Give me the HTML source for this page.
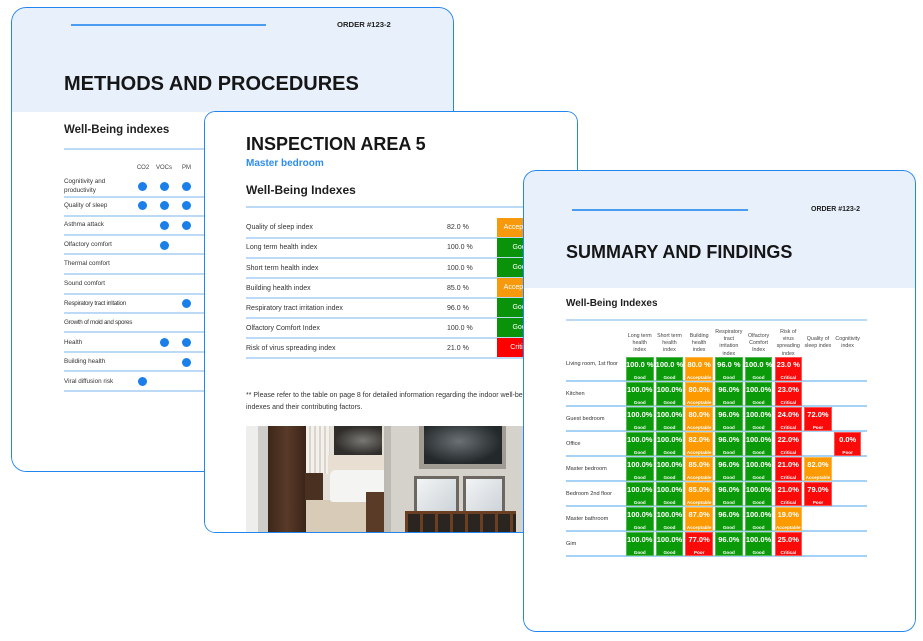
<!DOCTYPE html>
<html><head><meta charset="utf-8">
<style>
*{margin:0;padding:0;box-sizing:border-box}
html,body{width:923px;height:641px;background:#fff;overflow:hidden}
body{position:relative;font-family:"Liberation Sans",Arial,sans-serif;color:#222}
.card{position:absolute;overflow:hidden;background:#fff}
.card::after{content:"";position:absolute;left:0;top:0;right:0;bottom:0;border:1.5px solid #2385ee;border-radius:inherit;pointer-events:none;z-index:50}
.in{position:absolute;width:923px;height:641px}
.a{position:absolute;white-space:nowrap}
.hl{position:absolute;background:#4a9cf0;height:1.5px}
.bl{position:absolute;background:#bcdaf6;height:2px}
.lr{position:absolute;white-space:nowrap;font-size:6.3px;color:#333;height:10px;line-height:10px}
.d{position:absolute;width:9px;height:9px;border-radius:50%;background:#1a7fe8}
.ml{position:absolute;white-space:nowrap;font-size:7px;color:#333;height:10px;line-height:10px}
.bd{position:absolute;left:497px;width:48px;height:19px;line-height:19px;color:#fff;font-size:7px;text-align:center}
.rl{position:absolute;white-space:nowrap;font-size:5.6px;color:#333;height:8px;line-height:8px;left:566px}
.ch{position:absolute;width:36px;text-align:center;font-size:5.3px;line-height:7.2px;color:#444}
.c{position:absolute;width:27.5px;height:24px;color:#fff;font-weight:bold;text-align:center;box-shadow:inset 0 0 0 1px rgba(255,255,255,.3)}
.c b{position:absolute;left:-4px;right:-4px;top:3.5px;font-size:7.5px;line-height:10px;white-space:nowrap}
.c i{position:absolute;left:-4px;right:-4px;top:18px;font-size:4.6px;line-height:5px;font-style:normal;white-space:nowrap}
.g{background:#0a9a0a}.o{background:#fd9a00}.r{background:#fb0a0a}
.x0{left:626px}.x1{left:655.7px}.x2{left:685.4px}.x3{left:715.1px}.x4{left:744.8px}.x5{left:774.5px}.x6{left:804.2px}.x7{left:833.9px}
.y0{top:356.5px}.y1{top:381.5px}.y2{top:406.5px}.y3{top:431.5px}.y4{top:456.5px}.y5{top:481.5px}.y6{top:506.5px}.y7{top:531.5px}
.rline{position:absolute;left:566px;width:301px;height:1.5px;background:#a6d2f5}
.p{position:absolute}
</style></head><body>

<!-- LEFT CARD -->
<div class="card" style="left:11px;top:7px;width:443px;height:465px;border-radius:15px;z-index:1">
<div class="in" style="left:-11px;top:-7px">
  <div class="a" style="left:0;top:0;width:923px;height:112px;background:#e7f0fb"></div>
  <div class="hl" style="left:71px;top:24px;width:195px"></div>
  <div class="a" style="left:337px;top:20px;font-size:7.7px;line-height:10px;font-weight:bold;color:#222">ORDER #123-2</div>
  <div class="a" style="left:64px;top:72px;font-size:20px;line-height:24px;font-weight:bold;color:#161616">METHODS AND PROCEDURES</div>
  <div class="a" style="left:64px;top:121.5px;font-size:11.5px;line-height:16px;font-weight:bold;color:#222">Well-Being indexes</div>
  <div class="bl" style="left:64px;top:147.5px;width:420px"></div>

  <div class="a" style="left:128px;top:164.3px;width:30px;text-align:center;font-size:6px;line-height:8px;color:#444">CO2</div>
  <div class="a" style="left:149px;top:164.3px;width:30px;text-align:center;font-size:6px;line-height:8px;color:#444">VOCs</div>
  <div class="a" style="left:171.5px;top:164.3px;width:30px;text-align:center;font-size:6px;line-height:8px;color:#444">PM</div>

  <div class="lr" style="left:64px;top:177px">Cognitivity and</div>
  <div class="lr" style="left:64px;top:186px">productivity</div>
  <div class="lr" style="left:64px;top:200.5px">Quality of sleep</div>
  <div class="lr" style="left:64px;top:220px">Asthma attack</div>
  <div class="lr" style="left:64px;top:240px">Olfactory comfort</div>
  <div class="lr" style="left:64px;top:259.3px">Thermal comfort</div>
  <div class="lr" style="left:64px;top:279px">Sound comfort</div>
  <div class="lr" style="left:64px;top:298.7px;letter-spacing:-0.3px">Respiratory tract irritation</div>
  <div class="lr" style="left:64px;top:318px;letter-spacing:-0.3px">Growth of mold and spores</div>
  <div class="lr" style="left:64px;top:337.7px">Health</div>
  <div class="lr" style="left:64px;top:357.3px">Building health</div>
  <div class="lr" style="left:64px;top:376.7px">Viral diffusion risk</div>

  <div class="bl" style="left:64px;top:195.7px;width:420px"></div>
  <div class="bl" style="left:64px;top:215px;width:420px"></div>
  <div class="bl" style="left:64px;top:234px;width:420px"></div>
  <div class="bl" style="left:64px;top:253.3px;width:420px"></div>
  <div class="bl" style="left:64px;top:273px;width:420px"></div>
  <div class="bl" style="left:64px;top:292.7px;width:420px"></div>
  <div class="bl" style="left:64px;top:312px;width:420px"></div>
  <div class="bl" style="left:64px;top:331.3px;width:420px"></div>
  <div class="bl" style="left:64px;top:350.7px;width:420px"></div>
  <div class="bl" style="left:64px;top:370px;width:420px"></div>
  <div class="bl" style="left:64px;top:389.7px;width:420px"></div>

  <div class="d" style="left:137.5px;top:182px"></div>
  <div class="d" style="left:159.5px;top:182px"></div>
  <div class="d" style="left:181.5px;top:182px"></div>
  <div class="d" style="left:137.5px;top:201px"></div>
  <div class="d" style="left:159.5px;top:201px"></div>
  <div class="d" style="left:181.5px;top:201px"></div>
  <div class="d" style="left:159.5px;top:220.5px"></div>
  <div class="d" style="left:181.5px;top:220.5px"></div>
  <div class="d" style="left:159.5px;top:240.5px"></div>
  <div class="d" style="left:181.5px;top:298.5px"></div>
  <div class="d" style="left:159.5px;top:337.5px"></div>
  <div class="d" style="left:181.5px;top:337.5px"></div>
  <div class="d" style="left:181.5px;top:357.5px"></div>
  <div class="d" style="left:137.5px;top:377px"></div>
</div>
</div>

<!-- MIDDLE CARD -->
<div class="card" style="left:204px;top:111px;width:374px;height:422px;border-radius:11px;z-index:2">
<div class="in" style="left:-204px;top:-111px">
  <div class="a" style="left:246px;top:132.5px;font-size:18px;line-height:22px;font-weight:bold;color:#161616">INSPECTION AREA 5</div>
  <div class="a" style="left:246px;top:156.5px;font-size:10px;line-height:14px;font-weight:bold;color:#2e8def">Master bedroom</div>
  <div class="a" style="left:246px;top:181.5px;font-size:12px;line-height:16px;font-weight:bold;color:#1e1e1e">Well-Being Indexes</div>
  <div class="bl" style="left:246px;top:206px;width:340px"></div>

  <div class="ml" style="left:246px;top:223.3px">Quality of sleep index</div>
  <div class="ml" style="left:246px;top:243.4px">Long term health index</div>
  <div class="ml" style="left:246px;top:263.5px">Short term health index</div>
  <div class="ml" style="left:246px;top:283.7px">Building health index</div>
  <div class="ml" style="left:246px;top:303.8px">Respiratory tract irritation index</div>
  <div class="ml" style="left:246px;top:324px">Olfactory Comfort Index</div>
  <div class="ml" style="left:246px;top:344.2px">Risk of virus spreading index</div>

  <div class="ml" style="left:447px;top:223.3px">82.0 %</div>
  <div class="ml" style="left:447px;top:243.4px">100.0 %</div>
  <div class="ml" style="left:447px;top:263.5px">100.0 %</div>
  <div class="ml" style="left:447px;top:283.7px">85.0 %</div>
  <div class="ml" style="left:447px;top:303.8px">96.0 %</div>
  <div class="ml" style="left:447px;top:324px">100.0 %</div>
  <div class="ml" style="left:447px;top:344.2px">21.0 %</div>

  <div class="bl" style="left:246px;top:237.3px;width:340px"></div>
  <div class="bl" style="left:246px;top:257.3px;width:340px"></div>
  <div class="bl" style="left:246px;top:277.3px;width:340px"></div>
  <div class="bl" style="left:246px;top:297.3px;width:340px"></div>
  <div class="bl" style="left:246px;top:317.3px;width:340px"></div>
  <div class="bl" style="left:246px;top:337.3px;width:340px"></div>
  <div class="bl" style="left:246px;top:357.3px;width:340px"></div>

  <div class="bd" style="top:218.3px;background:#f7990c">Acceptable</div>
  <div class="bd" style="top:238.3px;background:#0a930a">Good</div>
  <div class="bd" style="top:258.3px;background:#0a930a">Good</div>
  <div class="bd" style="top:278.3px;background:#f7990c">Acceptable</div>
  <div class="bd" style="top:298.3px;background:#0a930a">Good</div>
  <div class="bd" style="top:318.3px;background:#0a930a">Good</div>
  <div class="bd" style="top:338.3px;background:#ff0000">Critical</div>

  <div class="ml" style="left:246px;top:390.7px;font-size:7px">** Please refer to the table on page 8 for detailed information regarding the indoor well-being</div>
  <div class="ml" style="left:246px;top:403.3px;font-size:7px">indexes and their contributing factors.</div>

  <!-- photo left -->
  <div class="p" style="left:246px;top:426px;width:138px;height:110px;background:#e4e0d8"></div>
  <div class="p" style="left:246px;top:426px;width:12px;height:110px;background:#eeeeec"></div>
  <div class="p" style="left:258px;top:426px;width:10px;height:110px;background:#cfcdc9"></div>
  <div class="p" style="left:268px;top:426px;width:38px;height:110px;background:linear-gradient(90deg,#3d271a,#5a3a28 50%,#3a2418)"></div>
  <div class="p" style="left:306px;top:426px;width:24px;height:48px;background:repeating-linear-gradient(90deg,#f4f1ec 0 3px,#d9d4cc 3px 5px)"></div>
  <div class="p" style="left:305px;top:473px;width:18px;height:28px;background:#4a3020"></div>
  <div class="p" style="left:306px;top:500px;width:78px;height:36px;background:#d8ccb8"></div>
  <div class="p" style="left:334px;top:426px;width:48px;height:29px;background:radial-gradient(ellipse at 60% 50%,#7a7874,#2f2e2b 70%)"></div>
  <div class="p" style="left:328px;top:455px;width:56px;height:20px;background:#e8dfd2"></div>
  <div class="p" style="left:330px;top:470px;width:54px;height:32px;background:#f4f4f2;border-radius:6px 0 0 3px"></div>
  <div class="p" style="left:366px;top:492px;width:18px;height:44px;background:#5a3b27"></div>
  <!-- photo right -->
  <div class="p" style="left:384px;top:426px;width:200px;height:110px;background:#d5d2cc"></div>
  <div class="p" style="left:384px;top:426px;width:7px;height:110px;background:#bdb9b3"></div>
  <div class="p" style="left:419px;top:426px;width:87px;height:43px;background:#a09b93"></div>
  <div class="p" style="left:424px;top:426px;width:78px;height:38px;background:radial-gradient(ellipse at 45% 40%,#6a7174,#23282a 70%)"></div>
  <div class="p" style="left:414px;top:476px;width:45px;height:38px;background:linear-gradient(135deg,#f2f4f5,#cdd3d8);border:3px solid #6d6761"></div>
  <div class="p" style="left:463px;top:476px;width:42px;height:38px;background:linear-gradient(135deg,#f2f4f5,#cdd3d8);border:3px solid #6d6761"></div>
  <div class="p" style="left:405px;top:512px;width:111px;height:24px;background:repeating-linear-gradient(90deg,#6b3f22 0 3px,#2b2522 3px 15px)"></div>
  <div class="p" style="left:405px;top:511px;width:111px;height:3px;background:#6b3f22"></div>
</div>
</div>

<!-- RIGHT CARD -->
<div class="card" style="left:523px;top:170px;width:393px;height:462px;border-radius:13px;z-index:3">
<div class="in" style="left:-523px;top:-170px">
  <div class="a" style="left:0;top:0;width:923px;height:288px;background:#e7f0fb"></div>
  <div class="hl" style="left:572px;top:209px;width:176px"></div>
  <div class="a" style="left:811px;top:205px;font-size:7px;line-height:10px;font-weight:bold;color:#222">ORDER #123-2</div>
  <div class="a" style="left:566px;top:240.5px;font-size:18px;line-height:22px;font-weight:bold;color:#161616">SUMMARY AND FINDINGS</div>
  <div class="a" style="left:566px;top:297px;font-size:10px;line-height:14px;font-weight:bold;color:#1e1e1e">Well-Being Indexes</div>
  <div class="bl" style="left:566px;top:318.5px;width:301px"></div>

  <div class="ch" style="left:621.75px;top:332.5px">Long term<br>health<br>index</div>
  <div class="ch" style="left:651.45px;top:332.5px">Short term<br>health<br>index</div>
  <div class="ch" style="left:681.15px;top:332.5px">Building<br>health<br>index</div>
  <div class="ch" style="left:710.85px;top:328.9px">Respiratory<br>tract<br>irritation<br>index</div>
  <div class="ch" style="left:740.55px;top:332.5px">Olfactory<br>Comfort<br>Index</div>
  <div class="ch" style="left:770.25px;top:328.9px">Risk of<br>virus<br>spreading<br>index</div>
  <div class="ch" style="left:799.95px;top:336.1px">Quality of<br>sleep index</div>
  <div class="ch" style="left:829.65px;top:336.1px">Cognitivity<br>index</div>

  <div class="rline" style="top:380px"></div>
  <div class="rline" style="top:405px"></div>
  <div class="rline" style="top:430px"></div>
  <div class="rline" style="top:455px"></div>
  <div class="rline" style="top:480px"></div>
  <div class="rline" style="top:505px"></div>
  <div class="rline" style="top:530px"></div>
  <div class="rline" style="top:555px"></div>

  <div class="rl" style="top:360px">Living room, 1st floor</div>
  <div class="rl" style="top:390px">Kitchen</div>
  <div class="rl" style="top:415px">Guest bedroom</div>
  <div class="rl" style="top:440px">Office</div>
  <div class="rl" style="top:465px">Master bedroom</div>
  <div class="rl" style="top:490px">Bedroom 2nd floor</div>
  <div class="rl" style="top:515px">Master bathroom</div>
  <div class="rl" style="top:540px">Gim</div>

  <!-- row 0 -->
  <div class="c g x0 y0"><b>100.0 %</b><i>Good</i></div>
  <div class="c g x1 y0"><b>100.0 %</b><i>Good</i></div>
  <div class="c o x2 y0"><b>80.0 %</b><i>Acceptable</i></div>
  <div class="c g x3 y0"><b>96.0 %</b><i>Good</i></div>
  <div class="c g x4 y0"><b>100.0 %</b><i>Good</i></div>
  <div class="c r x5 y0"><b>23.0 %</b><i>Critical</i></div>
  <!-- row 1 -->
  <div class="c g x0 y1"><b>100.0%</b><i>Good</i></div>
  <div class="c g x1 y1"><b>100.0%</b><i>Good</i></div>
  <div class="c o x2 y1"><b>80.0%</b><i>Acceptable</i></div>
  <div class="c g x3 y1"><b>96.0%</b><i>Good</i></div>
  <div class="c g x4 y1"><b>100.0%</b><i>Good</i></div>
  <div class="c r x5 y1"><b>23.0%</b><i>Critical</i></div>
  <!-- row 2 -->
  <div class="c g x0 y2"><b>100.0%</b><i>Good</i></div>
  <div class="c g x1 y2"><b>100.0%</b><i>Good</i></div>
  <div class="c o x2 y2"><b>80.0%</b><i>Acceptable</i></div>
  <div class="c g x3 y2"><b>96.0%</b><i>Good</i></div>
  <div class="c g x4 y2"><b>100.0%</b><i>Good</i></div>
  <div class="c r x5 y2"><b>24.0%</b><i>Critical</i></div>
  <div class="c r x6 y2"><b>72.0%</b><i>Poor</i></div>
  <!-- row 3 -->
  <div class="c g x0 y3"><b>100.0%</b><i>Good</i></div>
  <div class="c g x1 y3"><b>100.0%</b><i>Good</i></div>
  <div class="c o x2 y3"><b>82.0%</b><i>Acceptable</i></div>
  <div class="c g x3 y3"><b>96.0%</b><i>Good</i></div>
  <div class="c g x4 y3"><b>100.0%</b><i>Good</i></div>
  <div class="c r x5 y3"><b>22.0%</b><i>Critical</i></div>
  <div class="c r x7 y3"><b>0.0%</b><i>Poor</i></div>
  <!-- row 4 -->
  <div class="c g x0 y4"><b>100.0%</b><i>Good</i></div>
  <div class="c g x1 y4"><b>100.0%</b><i>Good</i></div>
  <div class="c o x2 y4"><b>85.0%</b><i>Acceptable</i></div>
  <div class="c g x3 y4"><b>96.0%</b><i>Good</i></div>
  <div class="c g x4 y4"><b>100.0%</b><i>Good</i></div>
  <div class="c r x5 y4"><b>21.0%</b><i>Critical</i></div>
  <div class="c o x6 y4"><b>82.0%</b><i>Acceptable</i></div>
  <!-- row 5 -->
  <div class="c g x0 y5"><b>100.0%</b><i>Good</i></div>
  <div class="c g x1 y5"><b>100.0%</b><i>Good</i></div>
  <div class="c o x2 y5"><b>85.0%</b><i>Acceptable</i></div>
  <div class="c g x3 y5"><b>96.0%</b><i>Good</i></div>
  <div class="c g x4 y5"><b>100.0%</b><i>Good</i></div>
  <div class="c r x5 y5"><b>21.0%</b><i>Critical</i></div>
  <div class="c r x6 y5"><b>79.0%</b><i>Poor</i></div>
  <!-- row 6 -->
  <div class="c g x0 y6"><b>100.0%</b><i>Good</i></div>
  <div class="c g x1 y6"><b>100.0%</b><i>Good</i></div>
  <div class="c o x2 y6"><b>87.0%</b><i>Acceptable</i></div>
  <div class="c g x3 y6"><b>96.0%</b><i>Good</i></div>
  <div class="c g x4 y6"><b>100.0%</b><i>Good</i></div>
  <div class="c o x5 y6"><b>19.0%</b><i>Acceptable</i></div>
  <!-- row 7 -->
  <div class="c g x0 y7"><b>100.0%</b><i>Good</i></div>
  <div class="c g x1 y7"><b>100.0%</b><i>Good</i></div>
  <div class="c r x2 y7"><b>77.0%</b><i>Poor</i></div>
  <div class="c g x3 y7"><b>96.0%</b><i>Good</i></div>
  <div class="c g x4 y7"><b>100.0%</b><i>Good</i></div>
  <div class="c r x5 y7"><b>25.0%</b><i>Critical</i></div>
</div>
</div>

</body></html>
